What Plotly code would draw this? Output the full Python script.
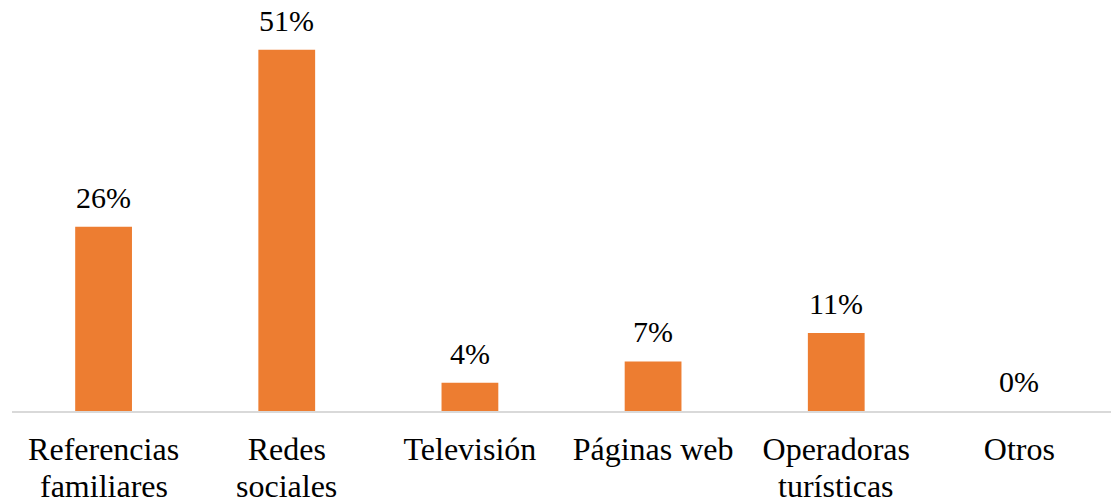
import plotly.graph_objects as go

categories = ["Referencias familiares", "Redes sociales", "Televisión", "Páginas web", "Operadoras turísticas", "Otros"]
tick_line1 = ["Referencias", "Redes", "Televisión", "Páginas web", "Operadoras", "Otros"]
tick_line2 = ["familiares", "sociales", "", "", "turísticas", ""]
values = [26, 51, 4, 7, 11, 0]
labels = ["26%", "51%", "4%", "7%", "11%", "0%"]

BAR_COLOR = "#ED7D31"
FONT = "Liberation Serif"

fig = go.Figure()
fig.add_trace(go.Bar(
    x=categories,
    y=values,
    marker=dict(color=BAR_COLOR, line=dict(width=0)),
    hoverinfo="skip",
))

# value labels above bars
for c, v, t in zip(categories, values, labels):
    fig.add_annotation(
        x=c, y=v, text=t, showarrow=False,
        yanchor="bottom", yshift=11,
        font=dict(family=FONT, size=30, color="#000000"),
    )

# second line of category labels
for c, t in zip(categories, tick_line2):
    if t:
        fig.add_annotation(
            x=c, y=0, text=t, showarrow=False,
            yanchor="top", yshift=-56, borderpad=0,
            font=dict(family=FONT, size=32, color="#000000"),
        )

fig.update_layout(
    width=1111, height=503,
    margin=dict(l=12, r=0, t=15, b=92),
    plot_bgcolor="white", paper_bgcolor="white",
    bargap=0.69,
    showlegend=False,
    hovermode=False,
    font=dict(family=FONT, color="#000000"),
)
fig.update_xaxes(
    showline=True, linecolor="#d9d9d9", linewidth=1.5,
    ticks="", showgrid=False,
    tickmode="array", tickvals=categories, ticktext=tick_line1,
    tickfont=dict(family=FONT, size=32, color="#000000"),
    ticklabelstandoff=9,
)
fig.update_yaxes(
    range=[0, 55.9], visible=False, showgrid=False, zeroline=False,
)

fig.write_html(
    "out.html",
    config={"displayModeBar": False, "staticPlot": True},
    post_script="document.body.style.margin='0';",
)
